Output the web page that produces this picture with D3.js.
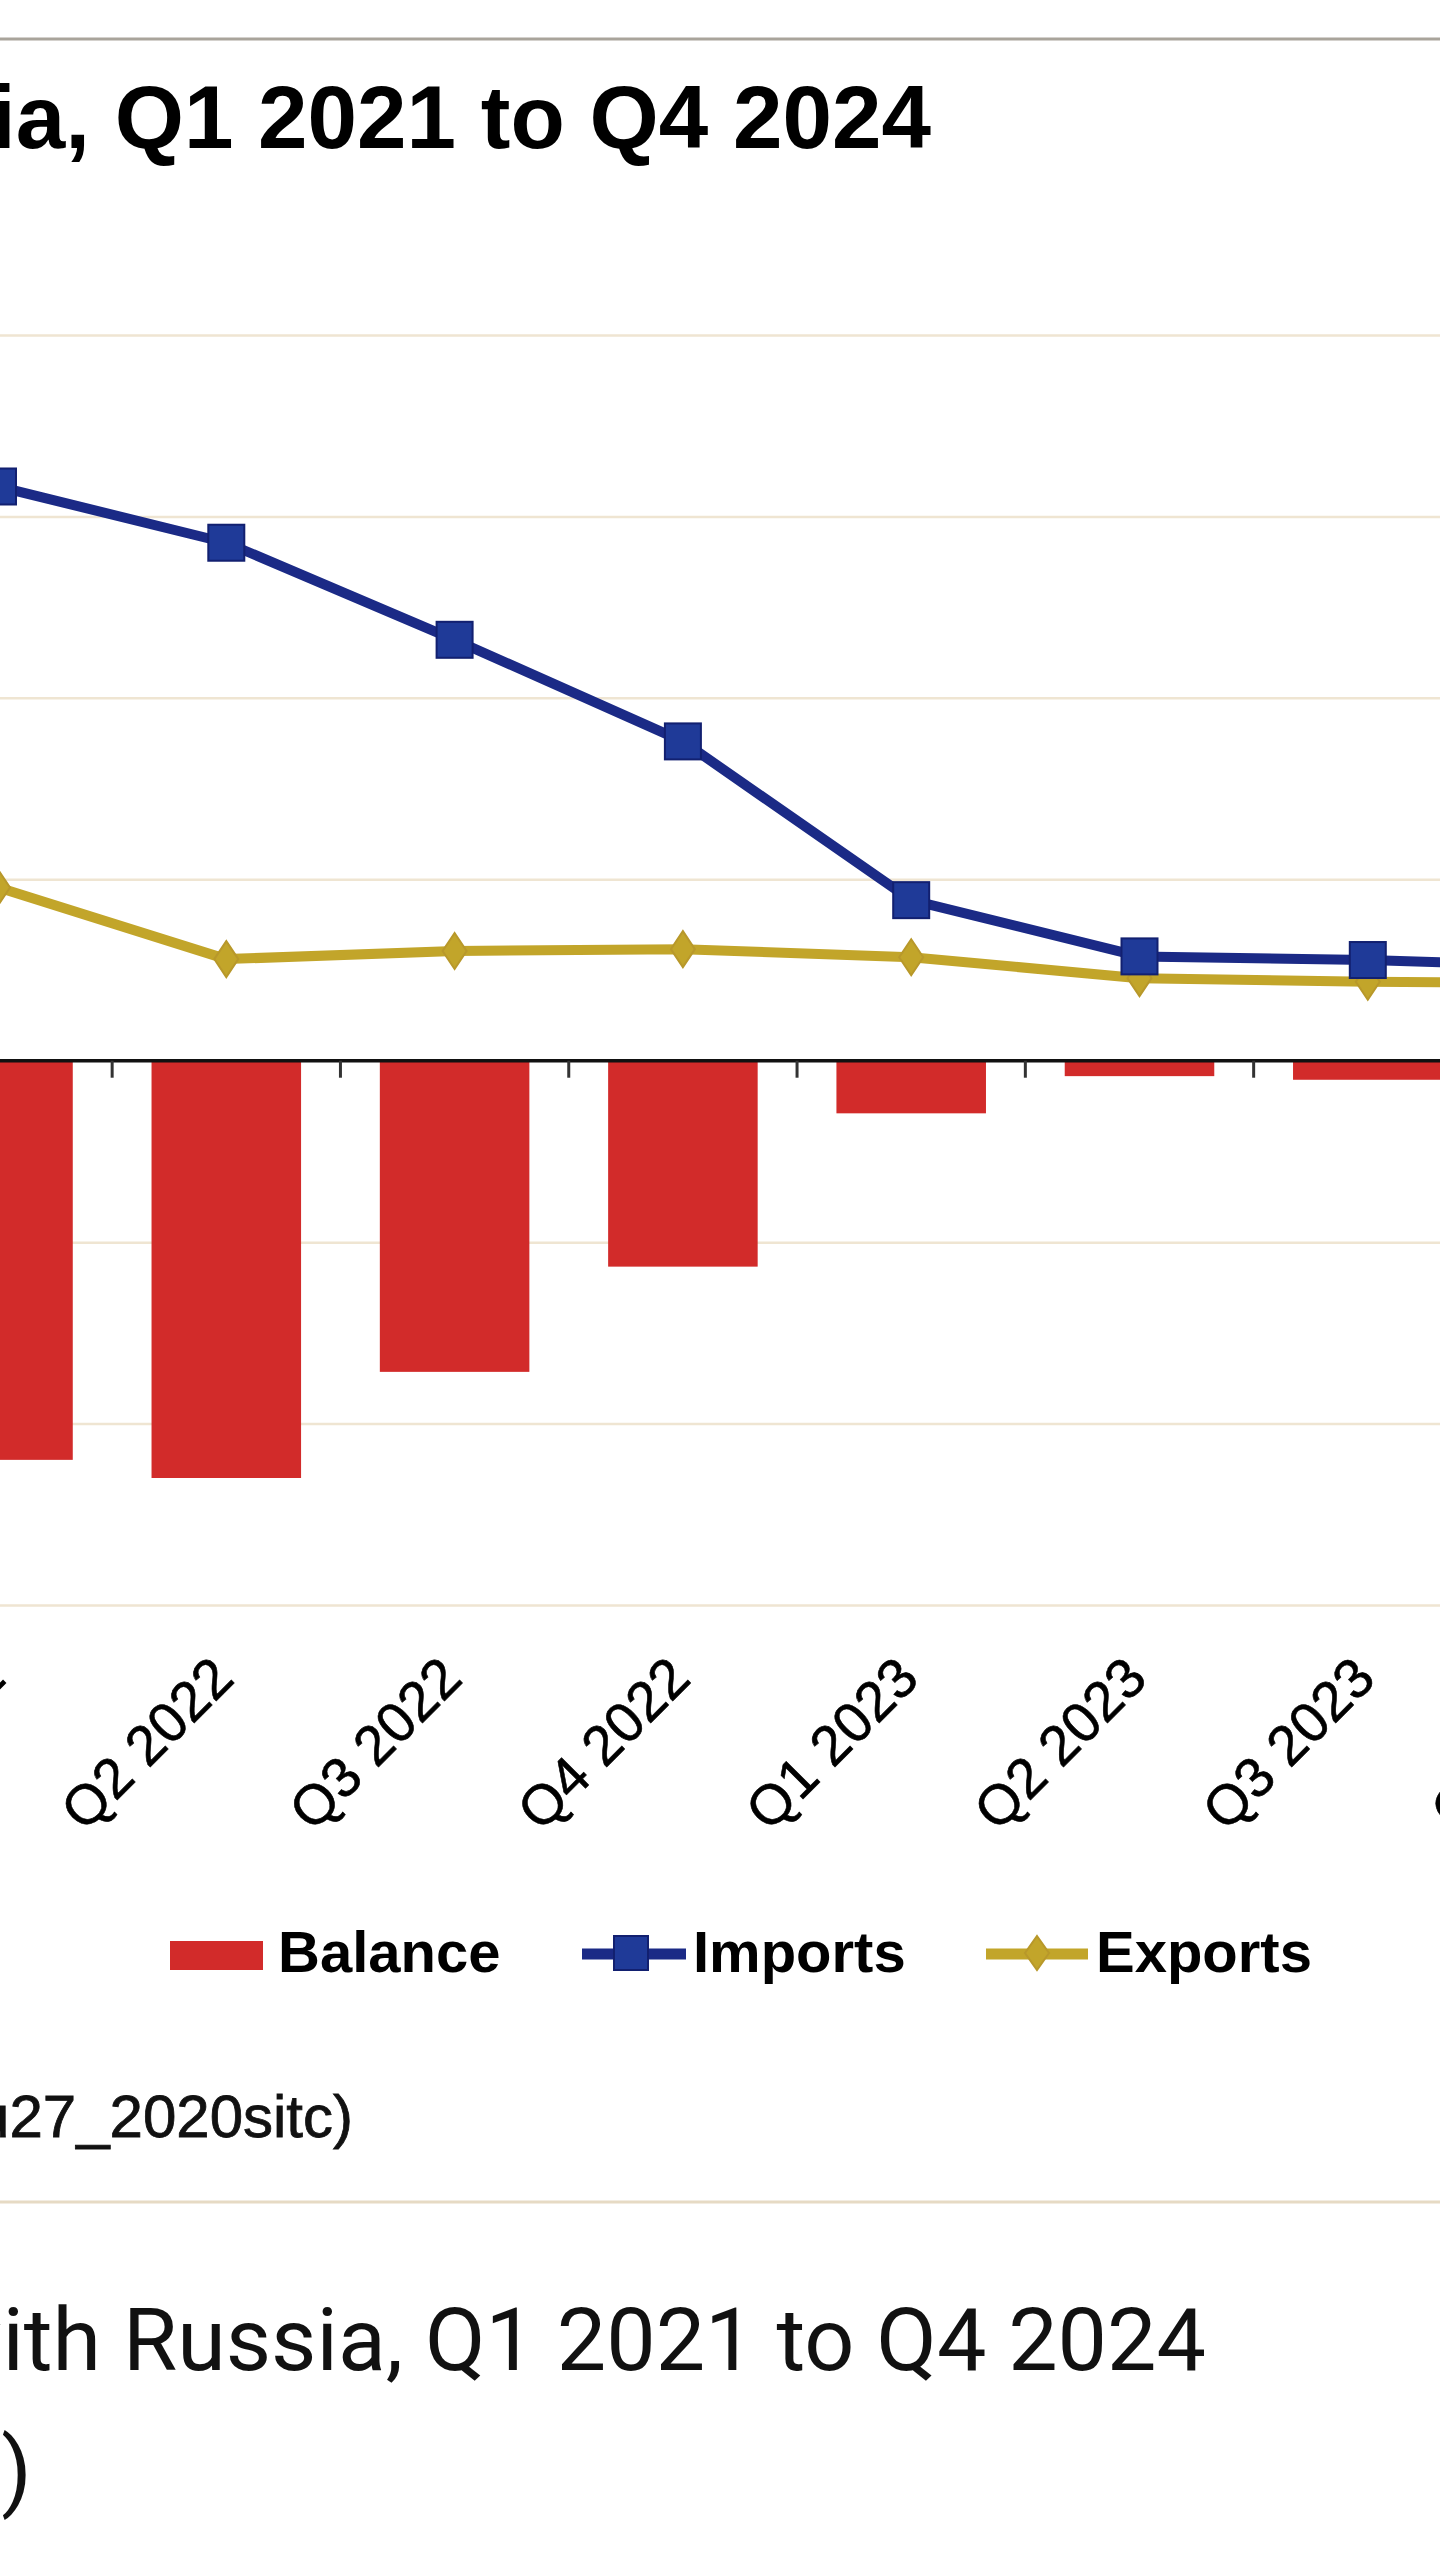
<!DOCTYPE html>
<html>
<head>
<meta charset="utf-8">
<script src="https://cdn.jsdelivr.net/npm/d3@7/dist/d3.min.js"></script>
<style>
  html, body { margin: 0; padding: 0; background: #ffffff; }
  svg { display: block; }
</style>
</head>
<body>
<svg id="chart" width="1440" height="2560"></svg>
<script>
// ---------- data (EUR billion) ----------
const categories = ["Q1 2021","Q2 2021","Q3 2021","Q4 2021",
                    "Q1 2022","Q2 2022","Q3 2022","Q4 2022",
                    "Q1 2023","Q2 2023","Q3 2023","Q4 2023",
                    "Q1 2024","Q2 2024","Q3 2024","Q4 2024"];
// only the quarters visible in the picture are known; the rest lie off-canvas
const imports = [null, null, null, null, 63.3, 57.1, 46.4, 35.2, 17.7, 11.5, 11.1, 10.3, null, null, null, null];
const exports = [null, null, null, null, 19.1, 11.2, 12.1, 12.3, 11.4, 9.1, 8.7, 8.5, null, null, null, null];
const balance = [null, null, null, null, -44.0, -46.0, -34.3, -22.7, -5.8, -1.7, -2.1, -1.8, null, null, null, null];
const yTicks = [-60, -40, -20, 0, 20, 40, 60, 80];
const seriesNames = ["Balance", "Imports", "Exports"];
const titleText = "EU trade in goods with Russia, Q1 2021 to Q4 2024";
const sourceText = "Source: Eurostat (online data code: ext_st_eu27_2020sitc)";
const captionLines = ["EU trade in goods with Russia, Q1 2021 to Q4 2024", "(€ billion)"];

// ---------- styles ----------
const RED = "#d22b2a", NAVY = "#1b2a86", BLUE = "#1f3a98", GOLD = "#c2a52a", GOLD_D = "#b8982a";
const GRID = "#efe5d2";
const SANS = "'Liberation Sans', Arial, sans-serif";

const svg = d3.select("#chart");
svg.append("rect").attr("width", 1440).attr("height", 2560).attr("fill", "#ffffff");

// top border
svg.append("line").attr("x1", 0).attr("x2", 1440).attr("y1", 39).attr("y2", 39)
  .attr("stroke", "#a9a49b").attr("stroke-width", 3);

// chart title (bold, partially off-canvas to the left, as in the reference)
svg.append("text")
  .attr("x", 931).attr("y", 148)
  .attr("text-anchor", "end")
  .attr("font-family", SANS)
  .attr("font-weight", "bold").attr("font-size", 89).attr("fill", "#000")
  .text(titleText);

// ---------- scales ----------
const step = 228.3;
const plotLeft = -2 - 4.5 * step;
const plotWidth = categories.length * step;
const x = d3.scaleBand()
  .domain(categories)
  .range([plotLeft, plotLeft + plotWidth])
  .paddingInner(0.345).paddingOuter(0.1725);
const xc = c => x(c) + x.bandwidth() / 2;

const y = d3.scaleLinear().domain([-60, 80]).range([1605, 335]);

const g = svg.append("g");

// gridlines via axis (tick labels lie off-canvas in the reference, so none drawn)
const yAxis = d3.axisLeft(y).tickValues(yTicks).tickSize(-plotWidth).tickFormat("");
const ga = g.append("g").attr("transform", `translate(${plotLeft},0)`).call(yAxis);
ga.select(".domain").remove();
ga.selectAll(".tick text").remove();
ga.selectAll(".tick line").attr("stroke", GRID).attr("stroke-width", 2.5)
  .filter(d => d === 0).attr("stroke", "none");

// bars
const barData = categories.map((c, i) => ({ c, v: balance[i] })).filter(d => d.v != null);
g.append("g").selectAll("rect").data(barData).join("rect")
  .attr("x", d => x(d.c))
  .attr("width", x.bandwidth())
  .attr("y", d => Math.min(y(0), y(d.v)))
  .attr("height", d => Math.abs(y(d.v) - y(0)))
  .attr("fill", RED);

// zero axis with ticks at category boundaries
const boundaries = d3.range(categories.length + 1).map(k => plotLeft + k * step);
g.append("line").attr("x1", plotLeft).attr("x2", plotLeft + plotWidth)
  .attr("y1", y(0)).attr("y2", y(0)).attr("stroke", "#111").attr("stroke-width", 3.5);
g.append("g").selectAll("line").data(boundaries).join("line")
  .attr("x1", d => d).attr("x2", d => d)
  .attr("y1", y(0)).attr("y2", y(0) + 17)
  .attr("stroke", "#333").attr("stroke-width", 3);

// x tick labels (rotated); only those reaching the canvas
const visibleCats = categories.filter(c => xc(c) + 10 > -20 && xc(c) + 10 - 170 < 1440);
g.append("g").selectAll("text").data(visibleCats).join("text")
  .attr("transform", c => `translate(${xc(c) + 10},1681) rotate(-45)`)
  .attr("text-anchor", "end")
  .attr("font-family", SANS)
  .attr("font-size", 56).attr("fill", "#000")
  .attr("stroke", "#000").attr("stroke-width", 0.6)
  .text(c => c);

// lines
const line = d3.line().defined(d => d.v != null).x(d => xc(d.c)).y(d => y(d.v));
const expData = categories.map((c, i) => ({ c, v: exports[i] }));
const impData = categories.map((c, i) => ({ c, v: imports[i] }));

g.append("path").datum(expData).attr("d", line)
  .attr("fill", "none").attr("stroke", GOLD).attr("stroke-width", 10).attr("stroke-linejoin", "round");
g.append("path").datum(impData).attr("d", line)
  .attr("fill", "none").attr("stroke", NAVY).attr("stroke-width", 10).attr("stroke-linejoin", "round");

const diamond = (cx, cy, w, h) => `M${cx},${cy - h / 2}L${cx + w / 2},${cy}L${cx},${cy + h / 2}L${cx - w / 2},${cy}Z`;
g.append("g").selectAll("path").data(expData.filter(d => d.v != null)).join("path")
  .attr("d", d => diamond(xc(d.c), y(d.v), 24, 36))
  .attr("fill", GOLD).attr("stroke", GOLD_D).attr("stroke-width", 2);
g.append("g").selectAll("rect").data(impData.filter(d => d.v != null)).join("rect")
  .attr("x", d => xc(d.c) - 18).attr("y", d => y(d.v) - 18)
  .attr("width", 36).attr("height", 36)
  .attr("fill", BLUE).attr("stroke", "#122070").attr("stroke-width", 2);

// ---------- legend ----------
const lg = svg.append("g");
// Balance
lg.append("rect").attr("x", 170).attr("y", 1941).attr("width", 93).attr("height", 29).attr("fill", RED);
// Imports
lg.append("line").attr("x1", 582).attr("x2", 686).attr("y1", 1954).attr("y2", 1954).attr("stroke", NAVY).attr("stroke-width", 11);
lg.append("rect").attr("x", 614).attr("y", 1936).attr("width", 34).attr("height", 34).attr("fill", BLUE).attr("stroke", "#122070").attr("stroke-width", 2);
// Exports
lg.append("line").attr("x1", 986).attr("x2", 1088).attr("y1", 1954).attr("y2", 1954).attr("stroke", GOLD).attr("stroke-width", 11);
lg.append("path").attr("d", diamond(1037, 1953, 24, 34)).attr("fill", GOLD).attr("stroke", GOLD_D).attr("stroke-width", 2);
const legendX = [278, 693, 1096];
lg.selectAll("text.leg").data(seriesNames).join("text").attr("class", "leg")
  .attr("x", (d, i) => legendX[i]).attr("y", 1972)
  .attr("font-family", SANS).attr("font-weight", "bold").attr("font-size", 58)
  .attr("fill", "#000").text(d => d);

// source
svg.append("text").attr("x", 353).attr("y", 2137).attr("text-anchor", "end")
  .attr("font-family", SANS).attr("font-size", 60).attr("fill", "#111")
  .attr("stroke", "#111").attr("stroke-width", 0.8)
  .text(sourceText);

// separator
svg.append("line").attr("x1", 0).attr("x2", 1440).attr("y1", 2202).attr("y2", 2202)
  .attr("stroke", "#e6dac4").attr("stroke-width", 3);

// web caption
svg.append("text").attr("x", 1206).attr("y", 2370).attr("text-anchor", "end")
  .attr("font-family", "Roboto, 'Noto Sans', sans-serif").attr("font-size", 88).attr("fill", "#111")
  .text(captionLines[0]);
svg.append("text").attr("x", 32).attr("y", 2500).attr("text-anchor", "end")
  .attr("font-family", "Roboto, 'Noto Sans', sans-serif").attr("font-size", 88).attr("fill", "#111")
  .text(captionLines[1]);
</script>
</body>
</html>
